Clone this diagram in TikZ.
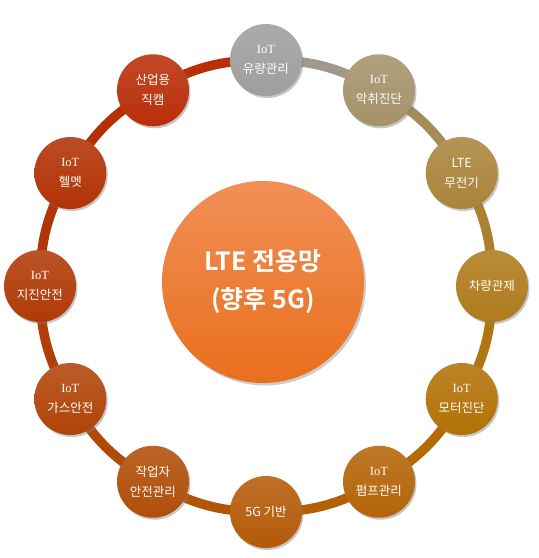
\documentclass[tikz,border=0pt]{standalone}
\usepackage{fontspec}
\setmainfont{Noto Sans CJK KR}[BoldFont={Noto Sans CJK KR Bold}]
\newfontfamily\iotfont{Liberation Serif}
\usetikzlibrary{shadows,backgrounds}

\definecolor{cFlow}{RGB}{158,158,158}
\definecolor{cOdor}{RGB}{164,146,106}
\definecolor{cRadio}{RGB}{170,132,58}
\definecolor{cCar}{RGB}{175,123,28}
\definecolor{cMotor}{RGB}{178,113,6}
\definecolor{cPump}{RGB}{180,100,8}
\definecolor{cFive}{RGB}{180,90,8}
\definecolor{cWorker}{RGB}{176,78,8}
\definecolor{cGas}{RGB}{176,68,8}
\definecolor{cQuake}{RGB}{176,58,6}
\definecolor{cHelmet}{RGB}{178,50,5}
\definecolor{cCam}{RGB}{186,46,8}
\definecolor{cHubTop}{RGB}{241,143,86}
\definecolor{cHubBot}{RGB}{233,111,28}

\newcommand{\iot}{{\iotfont IoT}}

\begin{document}
\begin{tikzpicture}[x=1pt,y=1pt,
    item/.style={circle,minimum size=72pt,inner sep=0pt,text=white,align=center,
        font=\fontsize{12.5}{20}\selectfont,top color=#1!87!white,bottom color=#1,
        drop shadow={opacity=0.45,shadow xshift=1.5pt,shadow yshift=-2pt}},
    ring/.style={line width=9.5pt}]
    \useasboundingbox (-266,286) rectangle (273,-272);

    \node[circle,minimum size=202pt,inner sep=0pt,text=white,align=center,
        font=\bfseries\fontsize{25}{38}\selectfont,top color=cHubTop,bottom color=cHubBot,
        drop shadow={opacity=0.4,shadow xshift=2pt,shadow yshift=-2.5pt}]
        (hub) at (-3,4) {LTE 전용망\\(향후 5G)};

    \node[item=cFlow]   (q_flow)   at (90:226)  {\iot\\유량관리};
    \node[item=cOdor]   (q_odor)   at (60:226)  {\iot\\악취진단};
    \node[item=cRadio]  (q_radio)  at (30:226)  {LTE\\무전기};
    \node[item=cCar]    (q_car)    at (0:226)   {차량관제};
    \node[item=cMotor]  (q_motor)  at (-30:226) {\iot\\모터진단};
    \node[item=cPump]   (q_pump)   at (-60:226) {\iot\\펌프관리};
    \node[item=cFive]   (q_five)   at (-90:226) {5G 기반};
    \node[item=cWorker] (q_worker) at (240:226) {작업자\\안전관리};
    \node[item=cGas]    (q_gas)    at (210:226) {\iot\\가스안전};
    \node[item=cQuake]  (q_quake)  at (180:226) {\iot\\지진안전};
    \node[item=cHelmet] (q_helmet) at (150:226) {\iot\\헬멧};
    \node[item=cCam]    (q_cam)    at (120:226) {산업용\\직캠};

    \begin{scope}[on background layer]
        \path[ring]
        (q_flow.center)   edge[bend left=15,draw=cFlow!70!cOdor]     (q_odor.center)
        (q_odor.center)   edge[bend left=15,draw=cOdor!60!cRadio]    (q_radio.center)
        (q_radio.center)  edge[bend left=15,draw=cRadio!55!cCar]     (q_car.center)
        (q_car.center)    edge[bend left=15,draw=cCar!55!cMotor]     (q_motor.center)
        (q_motor.center)  edge[bend left=15,draw=cMotor!55!cPump]    (q_pump.center)
        (q_pump.center)   edge[bend left=15,draw=cPump!55!cFive]     (q_five.center)
        (q_five.center)   edge[bend left=15,draw=cFive!55!cWorker]   (q_worker.center)
        (q_worker.center) edge[bend left=15,draw=cWorker!55!cGas]    (q_gas.center)
        (q_gas.center)    edge[bend left=15,draw=cGas!55!cQuake]     (q_quake.center)
        (q_quake.center)  edge[bend left=15,draw=cQuake!55!cHelmet]  (q_helmet.center)
        (q_helmet.center) edge[bend left=15,draw=cHelmet!55!cCam]    (q_cam.center)
        (q_cam.center)    edge[bend left=15,draw=cCam]               (q_flow.center);
    \end{scope}
\end{tikzpicture}
\end{document}
